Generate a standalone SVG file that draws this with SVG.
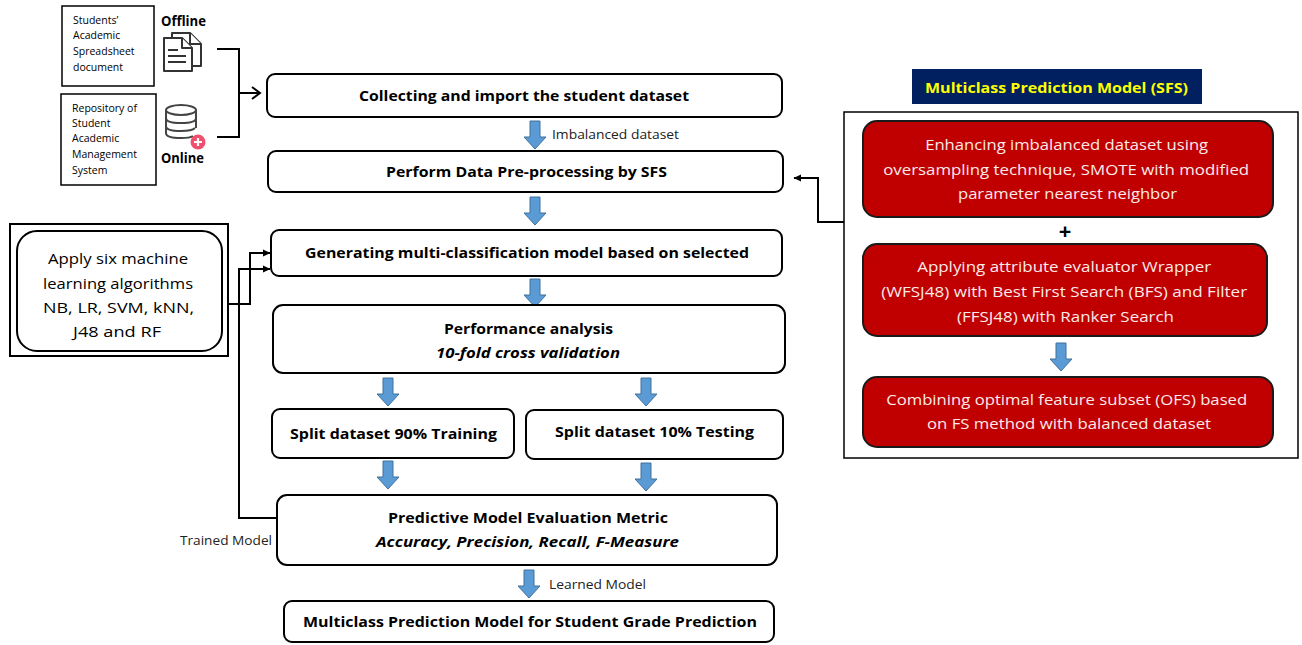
<svg xmlns="http://www.w3.org/2000/svg" width="1302" height="645" viewBox="0 0 1302 645">
<style>
.box{fill:#fff;stroke:#000;stroke-width:2}
.red{fill:#c00000;stroke:#1a1a1a;stroke-width:2}
.t{font-family:"Open Sans","Liberation Sans",sans-serif;fill:#000}
.b{font-weight:bold;font-size:14px}
.bi{font-weight:bold;font-style:italic;font-size:14px}
.w{font-family:"Open Sans","Liberation Sans",sans-serif;fill:#fbeaea;font-size:14px}
.sm{font-size:10.5px}
.lab{font-size:12px;fill:#222}
.ln{fill:none;stroke:#000;stroke-width:2}
.ic{fill:#fff;stroke:#333;stroke-width:2;stroke-linejoin:round}
</style>
<defs>
<path id="barrow" d="M-5,0 H5 V16 H11 L0,28 L-11,16 H-5 Z" fill="#5b9bd5" stroke="#41719c" stroke-width="1"/>
<marker id="tri" markerWidth="8" markerHeight="8" refX="7" refY="4" orient="auto" markerUnits="userSpaceOnUse">
<path d="M0,0.5 L7.5,4 L0,7.5 Z" fill="#000"/>
</marker>
<marker id="open" markerWidth="12" markerHeight="14" refX="10" refY="7" orient="auto" markerUnits="userSpaceOnUse">
<path d="M2,1 L10,7 L2,13" fill="none" stroke="#000" stroke-width="2"/>
</marker>
</defs>

<g id="sources">
<g id="src-offline">
<rect x="62" y="6" width="92" height="80" fill="#fff" stroke="#000" stroke-width="1.5"/>
<text class="t sm" x="73"><tspan x="73" y="24">Students’</tspan><tspan x="73" y="39">Academic</tspan><tspan x="73" y="55">Spreadsheet</tspan><tspan x="73" y="71">document</tspan></text>
<text class="t" x="161" y="26" font-weight="bold" font-size="13.5" textLength="45" lengthAdjust="spacingAndGlyphs">Offline</text>
<path class="ic" d="M172,38 V33 H190 L201,44 V66 H192"/>
<path class="ic" d="M190,33 V44 H201"/>
<path class="ic" d="M164,38 H182 L192,48 V71 H164 Z"/>
<path class="ic" d="M182,38 V48 H192"/>
<path d="M168,50 H178 M168,56 H186 M168,62 H186" stroke="#333" stroke-width="2"/>
</g>
<g id="src-online">
<rect x="61" y="94" width="95" height="91" fill="#fff" stroke="#000" stroke-width="1.5"/>
<text class="t sm"><tspan x="72" y="112">Repository of</tspan><tspan x="72" y="127">Student</tspan><tspan x="72" y="142">Academic</tspan><tspan x="72" y="158">Management</tspan><tspan x="72" y="174">System</tspan></text>
<text class="t" x="161" y="163" font-weight="bold" font-size="13.5" textLength="43" lengthAdjust="spacingAndGlyphs">Online</text>
<ellipse cx="181" cy="110" rx="15" ry="5" fill="none" stroke="#444" stroke-width="2"/>
<path d="M166,110 V133 Q166,138 181,138 Q190,138 193,136 M196,110 V128 M166,118 Q166,123 181,123 Q196,123 196,118 M166,126 Q166,131 181,131 Q192,131 195,128" fill="none" stroke="#444" stroke-width="2"/>
<circle cx="198" cy="142" r="7.5" fill="#f0506e"/>
<path d="M198,138 V146 M194,142 H202" stroke="#fff" stroke-width="2.2"/>
</g>
</g>

<g id="sfs-frame">
<rect x="912" y="69" width="290" height="35" fill="#002060"/>
<text x="1056.5" y="93" text-anchor="middle" font-family="'Open Sans','Liberation Sans',sans-serif" font-weight="bold" font-size="14" fill="#ffff00" textLength="263" lengthAdjust="spacingAndGlyphs">Multiclass Prediction Model (SFS)</text>
<rect x="844" y="112" width="454" height="346" fill="none" stroke="#000" stroke-width="1.5"/>
</g>

<g id="connectors">
<path class="ln" d="M217,49 H239 V137 H217"/>
<path class="ln" d="M239,93 H260" marker-end="url(#open)"/>
<path class="ln" d="M228,304 H250 V253 H270" marker-end="url(#tri)"/>
<path class="ln" d="M277,518 H239 V269 H270" marker-end="url(#tri)"/>
<path class="ln" d="M844,222 H818 V178 H794" marker-end="url(#tri)"/>
<use href="#barrow" x="535" y="121"/>
<use href="#barrow" x="535" y="197"/>
<use href="#barrow" x="535" y="279"/>
<use href="#barrow" x="388" y="378"/>
<use href="#barrow" x="646" y="378"/>
<use href="#barrow" x="388" y="461"/>
<use href="#barrow" x="646" y="463"/>
<use href="#barrow" x="529" y="570"/>
<use href="#barrow" x="1061" y="343"/>
<text class="t lab" x="552" y="139" textLength="127" lengthAdjust="spacingAndGlyphs">Imbalanced dataset</text>
<text class="t lab" x="549" y="589" textLength="97" lengthAdjust="spacingAndGlyphs">Learned Model</text>
<text class="t lab" x="180" y="545" textLength="92" lengthAdjust="spacingAndGlyphs">Trained Model</text>
<text x="1065" y="239" text-anchor="middle" font-family="'Open Sans','Liberation Sans',sans-serif" font-weight="bold" font-size="22" fill="#000">+</text>
</g>

<g id="collect">
<rect class="box" x="267" y="74" width="515" height="43" rx="8"/>
<text class="t b" x="524" y="101" text-anchor="middle" textLength="330" lengthAdjust="spacingAndGlyphs">Collecting and import the student dataset</text>
</g>
<g id="preprocess">
<rect class="box" x="268" y="151" width="515" height="41" rx="8"/>
<text class="t b" x="526.5" y="177" text-anchor="middle" textLength="281" lengthAdjust="spacingAndGlyphs">Perform Data Pre-processing by SFS</text>
</g>
<g id="generate">
<rect class="box" x="271" y="230" width="511" height="46" rx="8"/>
<text class="t b" x="527" y="258" text-anchor="middle" textLength="444" lengthAdjust="spacingAndGlyphs">Generating multi-classification model based on selected</text>
</g>
<g id="performance">
<rect class="box" x="273" y="305" width="512" height="68" rx="10"/>
<text class="t b" x="528.5" y="334" text-anchor="middle" textLength="169" lengthAdjust="spacingAndGlyphs">Performance analysis</text>
<text class="t bi" x="528" y="358" text-anchor="middle" textLength="184" lengthAdjust="spacingAndGlyphs">10-fold cross validation</text>
</g>
<g id="train">
<rect class="box" x="272" y="409" width="242" height="49" rx="8"/>
<text class="t b" x="393.5" y="439" text-anchor="middle" textLength="207" lengthAdjust="spacingAndGlyphs">Split dataset 90% Training</text>
</g>
<g id="test">
<rect class="box" x="526" y="410" width="257" height="49" rx="8"/>
<text class="t b" x="654.5" y="437" text-anchor="middle" textLength="199" lengthAdjust="spacingAndGlyphs">Split dataset 10% Testing</text>
</g>
<g id="evaluate">
<rect class="box" x="277" y="495" width="500" height="70" rx="10"/>
<text class="t b" x="528" y="523" text-anchor="middle" textLength="280" lengthAdjust="spacingAndGlyphs">Predictive Model Evaluation Metric</text>
<text class="t bi" x="527.5" y="547" text-anchor="middle" textLength="303" lengthAdjust="spacingAndGlyphs">Accuracy, Precision, Recall, F-Measure</text>
</g>
<g id="final">
<rect class="box" x="284" y="601" width="490" height="41" rx="8"/>
<text class="t b" x="530" y="627" text-anchor="middle" textLength="454" lengthAdjust="spacingAndGlyphs">Multiclass Prediction Model for Student Grade Prediction</text>
</g>

<g id="algorithms">
<rect x="10" y="224" width="218" height="132" fill="#fff" stroke="#000" stroke-width="2"/>
<rect x="17" y="231" width="205" height="120" rx="20" fill="#fff" stroke="#000" stroke-width="2"/>
<text class="t" font-size="15" text-anchor="middle">
<tspan x="120" y="264" textLength="140" lengthAdjust="spacingAndGlyphs">Apply six machine</tspan>
<tspan x="120" y="289" textLength="150" lengthAdjust="spacingAndGlyphs">learning algorithms</tspan>
<tspan x="120.5" y="313" textLength="151" lengthAdjust="spacingAndGlyphs">NB, LR, SVM, kNN,</tspan>
<tspan x="117" y="337" textLength="88" lengthAdjust="spacingAndGlyphs">J48 and RF</tspan>
</text>
</g>

<g id="sfs-smote">
<rect class="red" x="863" y="121" width="410" height="96" rx="14"/>
<text class="w" text-anchor="middle">
<tspan x="1068.5" y="150" textLength="283" lengthAdjust="spacingAndGlyphs">Enhancing imbalanced dataset using</tspan>
<tspan x="1068" y="175" textLength="366" lengthAdjust="spacingAndGlyphs">oversampling technique, SMOTE with modified</tspan>
<tspan x="1067.5" y="199" textLength="219" lengthAdjust="spacingAndGlyphs">parameter nearest neighbor</tspan>
</text>
</g>
<g id="sfs-wrapper">
<rect class="red" x="863" y="244" width="404" height="92" rx="14"/>
<text class="w" text-anchor="middle">
<tspan x="1066" y="272" textLength="294" lengthAdjust="spacingAndGlyphs">Applying attribute evaluator Wrapper</tspan>
<tspan x="1066" y="297" textLength="366" lengthAdjust="spacingAndGlyphs">(WFSJ48) with Best First Search (BFS) and Filter</tspan>
<tspan x="1065.5" y="322" textLength="217" lengthAdjust="spacingAndGlyphs">(FFSJ48) with Ranker Search</tspan>
</text>
</g>
<g id="sfs-ofs">
<rect class="red" x="863" y="377" width="410" height="70" rx="14"/>
<text class="w" text-anchor="middle">
<tspan x="1068.5" y="405" textLength="361" lengthAdjust="spacingAndGlyphs">Combining optimal feature subset (OFS) based</tspan>
<tspan x="1069" y="429" textLength="284" lengthAdjust="spacingAndGlyphs">on FS method with balanced dataset</tspan>
</text>
</g>
</svg>
